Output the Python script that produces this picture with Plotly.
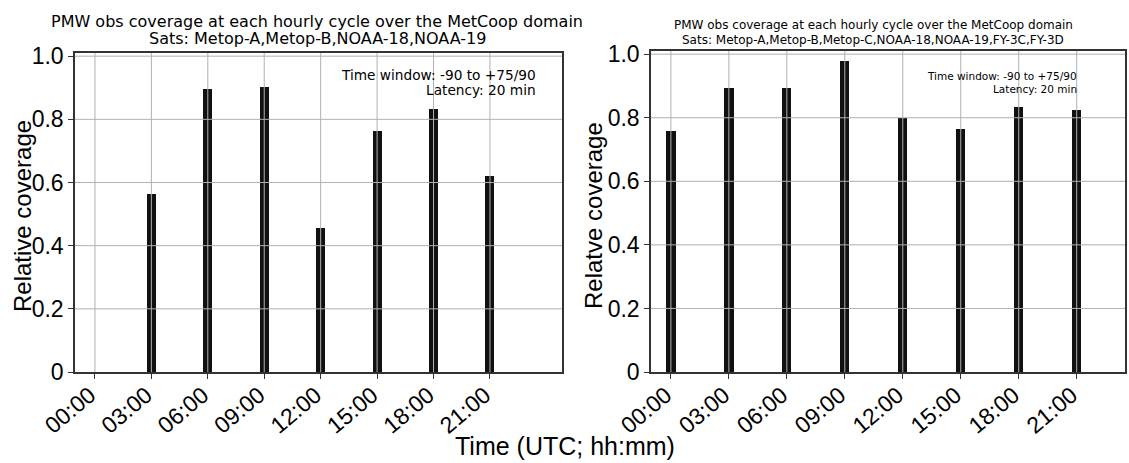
import plotly.graph_objects as go

hours = [0, 3, 6, 9, 12, 15, 18, 21]
tick_labels = ["00:00", "03:00", "06:00", "09:00", "12:00", "15:00", "18:00", "21:00"]
cov_left = [0.0, 0.563, 0.897, 0.903, 0.457, 0.763, 0.834, 0.622]
cov_right = [0.758, 0.893, 0.895, 0.978, 0.800, 0.765, 0.835, 0.825]
y_ticks = [0, 0.2, 0.4, 0.6, 0.8, 1.0]
y_tick_labels = ["0", "0.2", "0.4", "0.6", "0.8", "1.0"]

title_left = ["PMW obs coverage at each hourly cycle over the MetCoop domain",
              "Sats: Metop-A,Metop-B,NOAA-18,NOAA-19"]
title_right = ["PMW obs coverage at each hourly cycle over the MetCoop domain",
               "Sats: Metop-A,Metop-B,Metop-C,NOAA-18,NOAA-19,FY-3C,FY-3D"]
note = ["Time window: -90 to +75/90", "Latency: 20 min"]

W, H = 1129, 463
def px(x):
    return x / W
def py(y):
    return (H - y) / H

fig = go.Figure()
fig.add_trace(go.Bar(x=hours, y=cov_left, width=0.48, marker=dict(color="#111111", line=dict(width=0)),
                     xaxis="x", yaxis="y", showlegend=False))
fig.add_trace(go.Bar(x=hours, y=cov_right, width=0.48, marker=dict(color="#111111", line=dict(width=0)),
                     xaxis="x2", yaxis="y2", showlegend=False))

ARIAL = "Liberation Sans, Arial"
tickfont = dict(family=ARIAL, size=23, color="#000")
common_x = dict(tickmode="array", tickvals=hours, ticktext=tick_labels, tickangle=-40,
                tickfont=tickfont, showgrid=False, zeroline=False, showline=True, mirror=True,
                linecolor="#333", linewidth=1.5, ticks="outside", ticklen=5, tickcolor="#333",
                automargin=False, ticklabelshift=-5, ticklabelstandoff=-6)
common_y = dict(tickmode="array", tickvals=y_ticks, ticktext=y_tick_labels, range=[0, 1.01],
                tickfont=tickfont, showgrid=False, zeroline=False, showline=True, mirror=True,
                linecolor="#333", linewidth=1.5, ticks="outside", ticklen=5, tickcolor="#333",
                automargin=False)

fig.update_layout(
    width=W, height=H, margin=dict(l=0, r=0, t=0, b=0, autoexpand=False),
    paper_bgcolor="white", plot_bgcolor="white", bargap=0,
    xaxis=dict(domain=[px(75), px(562)], range=[-1.06, 24.83], anchor="y", **common_x),
    yaxis=dict(domain=[py(372), py(53)], anchor="x", **common_y),
    xaxis2=dict(domain=[px(651), px(1125)], range=[-1.03, 23.5], anchor="y2", **common_x),
    yaxis2=dict(domain=[py(372), py(51)], anchor="x2", **common_y),
)

shapes = []
for xa, ya in (("x", "y"), ("x2", "y2")):
    for h in hours:
        shapes.append(dict(type="line", xref=xa, yref=f"{ya} domain", x0=h, x1=h, y0=0, y1=1,
                           line=dict(color="#b0b0b0", width=1), layer="above"))
    for t in y_ticks[1:]:
        shapes.append(dict(type="line", xref=f"{xa} domain", yref=ya, x0=0, x1=1, y0=t, y1=t,
                           line=dict(color="#b0b0b0", width=1), layer="above"))
fig.update_layout(shapes=shapes)

def txt(text, x, y, size, family="DejaVu Sans", xanchor="center", angle=0):
    return dict(text=text, x=px(x), y=py(y), xref="paper", yref="paper", xanchor=xanchor,
                yanchor="middle", showarrow=False, textangle=angle,
                font=dict(family=family, size=size, color="#000"))

annotations = [
    txt(title_left[0], 317, 21, 16),
    txt(title_left[1], 317, 38, 16),
    txt(title_right[0], 873, 25, 12),
    txt(title_right[1], 873, 40, 12),
    txt(note[0], 538, 75, 13.7, xanchor="right"),
    txt(note[1], 538, 90, 13.7, xanchor="right"),
    txt(note[0], 1079, 76, 10.5, xanchor="right"),
    txt(note[1], 1079, 89, 10.5, xanchor="right"),
    txt("Relative coverage", 22, 216, 24, family=ARIAL, angle=-90),
    txt("Relatve coverage", 593, 216, 24, family=ARIAL, angle=-90),
    txt("Time (UTC; hh:mm)", 565, 446, 25, family=ARIAL),
]
fig.update_layout(annotations=annotations)

fig.write_html("out.html")
